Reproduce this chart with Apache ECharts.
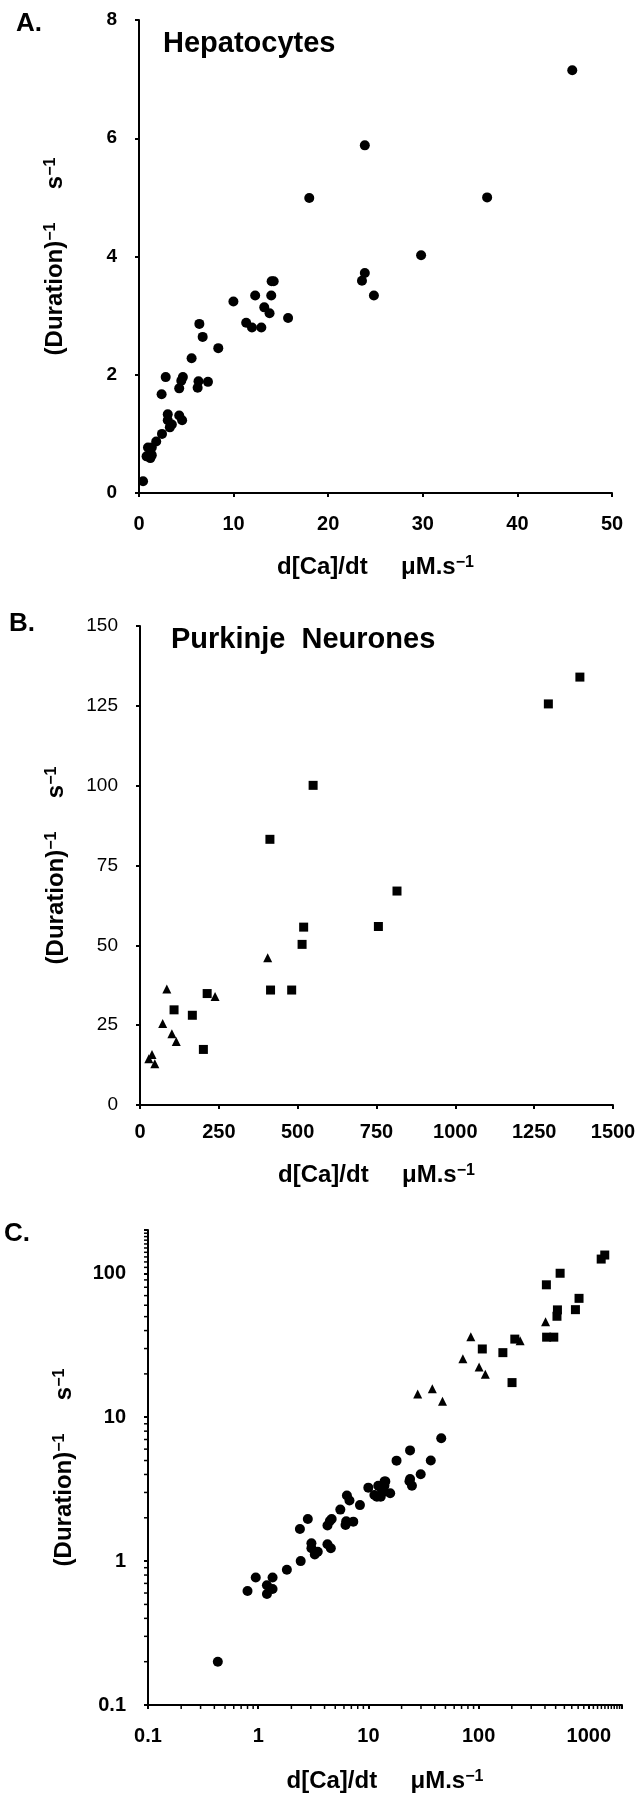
<!DOCTYPE html>
<html>
<head>
<meta charset="utf-8">
<script src="https://cdn.jsdelivr.net/npm/echarts@6/dist/echarts.min.js"></script>
<style>
  html, body { margin: 0; padding: 0; background: #fff; }
  #chart { width: 644px; height: 1800px; }
</style>
</head>
<body>
<div id="chart"></div>
<script>
// [d[Ca]/dt (uM/s), 1/duration (1/s)]
const hepatocytes = [
  [0.43, 0.20], [0.8, 0.62], [0.95, 0.77], [1.2, 0.68], [1.2, 0.59], [1.35, 0.64], [1.35, 0.77],
  [1.82, 0.87], [2.43, 1.0], [2.39, 1.67], [2.82, 1.96], [3.04, 1.33], [3.04, 1.23], [3.26, 1.11],
  [3.47, 1.16], [4.25, 1.31], [4.56, 1.23], [4.25, 1.77], [4.47, 1.90], [4.64, 1.96], [5.56, 2.28],
  [6.2, 1.78], [6.29, 1.89], [6.38, 2.86], [6.73, 2.64], [7.29, 1.88], [8.38, 2.45], [9.98, 3.24],
  [11.33, 2.88], [11.94, 2.80], [12.28, 3.34], [12.93, 2.80], [13.24, 3.14], [13.8, 3.04],
  [13.98, 3.34], [14.02, 3.58], [14.24, 3.58], [15.76, 2.96], [18.0, 4.99], [23.57, 3.59],
  [23.87, 3.72], [23.87, 5.88], [24.83, 3.34], [29.82, 4.02], [36.8, 5.0], [45.8, 7.15]
];
const purkinjeSquares = [
  [1395, 134], [1295, 125.6], [549, 100.1], [412, 83.2], [815, 67], [756, 55.9], [519, 55.7],
  [514, 50.3], [414, 36], [481, 36], [213, 34.9], [108, 29.8], [166, 28.1], [201, 17.4]
];
const purkinjeTriangles = [
  [28, 14.5], [38, 15.8], [47, 12.9], [72, 25.5], [85, 36.3], [101, 22.3], [115, 19.9],
  [238, 34], [405, 46.1]
];

// log panel: labelled decades and the small in-between ticks
const logLabels = [0.1, 1, 10, 100, 1000];
const logMinorX = [
  0.2, 0.3, 0.4, 0.5, 0.6, 0.7, 0.8, 0.9,
  2, 3, 4, 5, 6, 7, 8, 9,
  20, 30, 40, 50, 60, 70, 80, 90,
  200, 300, 400, 500, 600, 700, 800, 900,
  1100, 1200, 1300, 1400, 1500, 1600, 1700, 1800, 1900, 2000
];
const logMinorY = [
  0.2, 0.3, 0.4, 0.5, 0.6, 0.7, 0.8, 0.9,
  2, 3, 4, 5, 6, 7, 8, 9,
  20, 30, 40, 50, 60, 70, 80, 90,
  110, 120, 130, 140, 150, 160, 170, 180, 190, 200
];
const logMinC = 0.1;

const FONT = 'Liberation Sans';
const black = '#000';

const rateName = '{t|d[Ca]/dt     \u03bcM.s}{s|\u22121}';
const freqName = '{t|(Duration)}{s|\u22121}{t|     s}{s|\u22121}';
const nameRich = {
  t: { fontSize: 24, fontWeight: 'bold', fontFamily: FONT, color: black },
  s: { fontSize: 16, fontWeight: 'bold', fontFamily: FONT, color: black, verticalAlign: 'top' }
};

function axis(opts, labelSize, labelWeight, margin) {
  return Object.assign({
    nameLocation: 'middle',
    nameMoveOverlap: false,
    nameTextStyle: { rich: nameRich },
    axisLine: { show: true, onZero: false, lineStyle: { color: black, width: 2 } },
    axisTick: { show: true, length: 4, lineStyle: { color: black, width: 2 } },
    axisLabel: {
      margin: margin, color: black, fontSize: labelSize, fontWeight: labelWeight, fontFamily: FONT,
      formatter: v => String(v)
    },
    splitLine: { show: false }
  }, opts);
}

function logAxis(opts, labelSize, margin) {
  const a = axis(Object.assign({ type: 'log', logBase: 10 }, opts), labelSize, 'bold', margin);
  a.axisLabel.formatter = v => (logLabels.some(l => Math.abs(l - v) < 1e-9 * l) ? String(v) : '');
  return a;
}

// short tick marks drawn through the log axes of panel C
function minorTicks(values, onX) {
  return {
    type: 'custom', xAxisIndex: 2, yAxisIndex: 2, silent: true, clip: false,
    data: values.map(v => (onX ? [v, logMinC] : [logMinC, v])),
    renderItem: (params, api) => {
      const p = api.coord([api.value(0), api.value(1)]);
      return {
        type: 'line',
        shape: onX ? { x1: p[0], y1: p[1], x2: p[0], y2: p[1] + 4 } : { x1: p[0] - 4, y1: p[1], x2: p[0], y2: p[1] },
        style: { stroke: black, lineWidth: 1.5 }
      };
    }
  };
}

const titleStyle = (size) => ({ fontSize: size, fontWeight: 'bold', fontFamily: FONT, color: black });
const dot = { color: black, opacity: 1 };

const option = {
  backgroundColor: '#fff',
  animation: false,
  title: [
    { text: 'A.', left: 16, top: 11, padding: 0, textStyle: titleStyle(26) },
    { text: 'Hepatocytes', left: 163, top: 29, padding: 0, textStyle: titleStyle(29) },
    { text: 'B.', left: 9, top: 611, padding: 0, textStyle: titleStyle(26) },
    { text: 'Purkinje  Neurones', left: 171, top: 625, padding: 0, textStyle: titleStyle(29) },
    { text: 'C.', left: 4, top: 1221, padding: 0, textStyle: titleStyle(26) }
  ],
  grid: [
    { left: 139, top: 20, width: 473, height: 473, outerBoundsMode: 'none' },
    { left: 140, top: 626, width: 473, height: 479, outerBoundsMode: 'none' },
    { left: 148, top: 1230, width: 474, height: 475, outerBoundsMode: 'none' }
  ],
  xAxis: [
    axis({ gridIndex: 0, type: 'value', min: 0, max: 50, interval: 10, name: rateName, nameGap: 62 }, 20, 'bold', 21),
    axis({ gridIndex: 1, type: 'value', min: 0, max: 1500, interval: 250, name: rateName, nameGap: 58 }, 20, 'bold', 17),
    logAxis({ gridIndex: 2, min: 0.1, max: 2000, name: rateName, nameGap: 64 }, 20, 21)
  ],
  yAxis: [
    axis({ gridIndex: 0, type: 'value', min: 0, max: 8, interval: 2, name: freqName, nameRotate: 90, nameGap: 72 }, 19, 'bold', 22),
    axis({ gridIndex: 1, type: 'value', min: 0, max: 150, interval: 25, name: freqName, nameRotate: 90, nameGap: 72 }, 19, 'normal', 22),
    logAxis({ gridIndex: 2, min: 0.1, max: 200, name: freqName, nameRotate: 90, nameGap: 72 }, 20, 22)
  ],
  series: [
    { type: 'scatter', xAxisIndex: 0, yAxisIndex: 0, data: hepatocytes, symbol: 'circle', symbolSize: 10, itemStyle: dot },
    { type: 'scatter', xAxisIndex: 1, yAxisIndex: 1, data: purkinjeSquares, symbol: 'rect', symbolSize: 9, itemStyle: dot },
    { type: 'scatter', xAxisIndex: 1, yAxisIndex: 1, data: purkinjeTriangles, symbol: 'triangle', symbolSize: 9, itemStyle: dot },
    { type: 'scatter', xAxisIndex: 2, yAxisIndex: 2, data: hepatocytes, symbol: 'circle', symbolSize: 10, itemStyle: dot },
    { type: 'scatter', xAxisIndex: 2, yAxisIndex: 2, data: purkinjeSquares, symbol: 'rect', symbolSize: 9, itemStyle: dot },
    { type: 'scatter', xAxisIndex: 2, yAxisIndex: 2, data: purkinjeTriangles, symbol: 'triangle', symbolSize: 9, itemStyle: dot },
    minorTicks(logMinorX, true),
    minorTicks(logMinorY, false)
  ]
};

const chart = echarts.init(document.getElementById('chart'));
chart.setOption(option);
</script>
</body>
</html>
